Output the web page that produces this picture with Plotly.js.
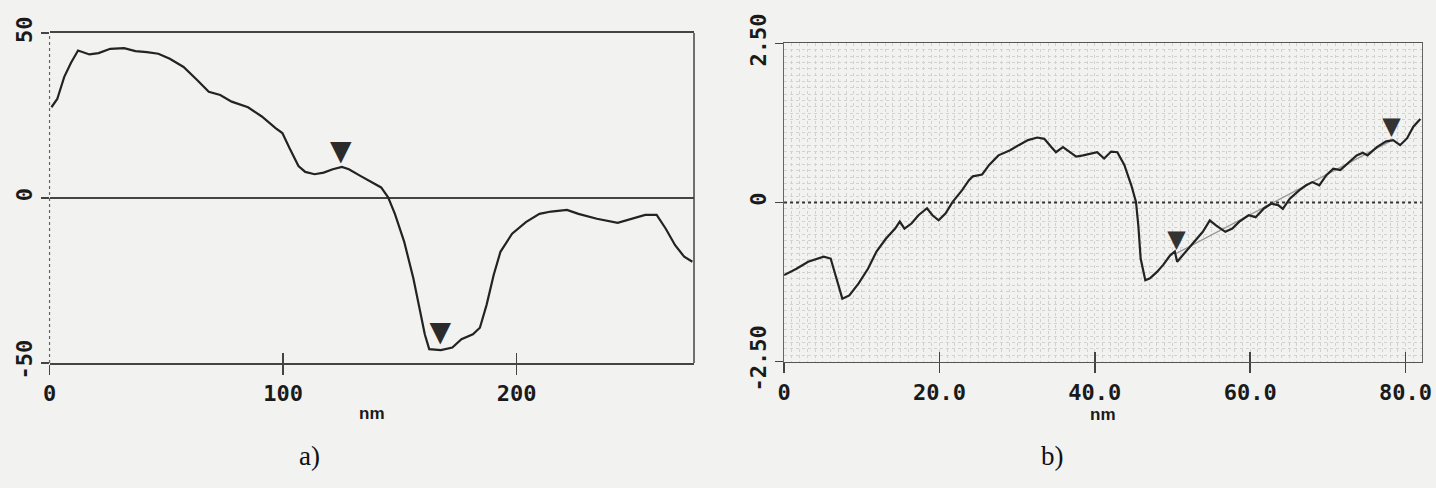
<!DOCTYPE html>
<html>
<head>
<meta charset="utf-8">
<script src="https://cdn.plot.ly/plotly-3.0.1.min.js"></script>
<style>
  html, body { margin: 0; padding: 0; background: #f2f2f0; }
  #chart { width: 1436px; height: 488px; }
</style>
</head>
<body>
<div id="chart"></div>
<script>
// ---- Panel a) data ----
const aX = [0.8, 3.3, 6.3, 9.2, 12.2, 14.2, 17.1, 21, 26, 31.9, 36.8, 41.7, 46.6, 51.5, 57.4, 63.3, 68.2, 73.1, 78, 85, 90.9, 96.8, 99.7, 102.7, 106.6, 109.5, 113.5, 117.4, 121.3, 125.2, 128.2, 133.1, 137.1, 142, 145, 147.9, 151.9, 155.8, 158.7, 160.7, 162.6, 167.6, 172.5, 176.4, 181.3, 184.3, 187.2, 190.2, 193.1, 198.1, 204, 209.8, 214.8, 221.6, 226.5, 234.4, 243.3, 249.2, 255.1, 260, 263.9, 267.9, 271.8, 275.3];
const aY = [27.5, 30, 36.7, 41, 44.7, 44.2, 43.5, 43.9, 45.2, 45.4, 44.5, 44.2, 43.7, 42.2, 39.7, 35.7, 32.2, 31.2, 29.2, 27.5, 24.7, 21.2, 19.7, 15.2, 9.7, 7.9, 7.2, 7.7, 8.7, 9.4, 8.7, 6.7, 5.2, 3.2, 0.2, -4.8, -13.3, -24.3, -34.3, -41.3, -45.8, -46.1, -45.3, -42.8, -41.3, -39.3, -32.3, -23.3, -16.3, -10.8, -7.3, -4.8, -4.1, -3.6, -4.8, -6.3, -7.5, -6.3, -5.1, -5.1, -9.3, -14.3, -17.8, -19.3];
const aMarkX = [124.7, 167.3];
const aMarkY = [9.4, -45.3];
const aTickVals = [0, 100, 200];
const aTickText = ['0', '100', '200'];
const aYTickVals = [-50, 0, 50];
const aYTickText = ['-50', '0', '50'];

// ---- Panel b) data ----
const bX = [0, 1.6, 3.1, 5.1, 6.0, 6.7, 7.5, 8.4, 9.6, 10.8, 11.9, 13.1, 14.3, 14.9, 15.5, 16.4, 17.3, 18.4, 19.1, 19.9, 20.8, 21.7, 22.9, 23.8, 24.3, 25.5, 26.4, 27.6, 29.1, 30.2, 31.4, 32.6, 33.5, 34.4, 35.0, 35.9, 36.7, 37.6, 38.5, 39.4, 40.3, 41.2, 42.1, 42.9, 43.8, 44.7, 45.3, 45.6, 45.9, 46.5, 47.1, 48.0, 48.8, 49.7, 50.3, 50.6, 51.5, 52.7, 53.9, 54.8, 55.6, 56.8, 57.7, 58.6, 59.8, 60.7, 61.8, 62.7, 63.6, 64.2, 65.1, 66.3, 67.2, 68.0, 68.9, 69.8, 70.7, 71.6, 72.8, 73.7, 74.5, 75.1, 76.3, 77.5, 78.4, 79.3, 80.2, 81.0, 81.9];
const bY = [-1.14, -1.04, -0.93, -0.85, -0.88, -1.19, -1.51, -1.46, -1.27, -1.04, -0.77, -0.57, -0.41, -0.30, -0.41, -0.33, -0.20, -0.09, -0.20, -0.28, -0.17, 0.01, 0.19, 0.35, 0.41, 0.44, 0.59, 0.74, 0.82, 0.90, 0.98, 1.02, 1.00, 0.87, 0.79, 0.87, 0.80, 0.72, 0.74, 0.77, 0.79, 0.69, 0.80, 0.79, 0.59, 0.27, 0.01, -0.36, -0.88, -1.22, -1.19, -1.09, -0.98, -0.83, -0.77, -0.93, -0.80, -0.62, -0.46, -0.28, -0.36, -0.46, -0.41, -0.30, -0.20, -0.23, -0.09, -0.02, -0.04, -0.10, 0.06, 0.19, 0.27, 0.32, 0.27, 0.43, 0.53, 0.51, 0.64, 0.74, 0.78, 0.74, 0.87, 0.96, 0.98, 0.90, 1.01, 1.19, 1.31];
const bFitX = [50.5, 78.3];
const bFitY = [-0.80, 0.98];
const bMarkX = [50.5, 78.2];
const bMarkY = [-0.79, 0.98];
const bTickVals = [0, 20, 40, 60, 80];
const bTickText = ['0', '20.0', '40.0', '60.0', '80.0'];
const bYTickVals = [-2.5, 0, 2.5];
const bYTickText = ['-2.50', '0', '2.50'];

const ink = '#232323';
const axisInk = '#444444';
const tickFont = { family: 'DejaVu Sans Mono', size: 22, color: '#1a1a1a', weight: 'bold' };
const unitFont = { family: 'Liberation Sans', size: 17, color: '#1a1a1a', weight: 'bold' };

const traces = [
  { x: aX, y: aY, xaxis: 'x', yaxis: 'y', mode: 'lines', line: { color: ink, width: 2.2 }, hoverinfo: 'skip' },
  { x: aMarkX, y: aMarkY, xaxis: 'x3', yaxis: 'y', mode: 'text', text: aMarkX.map(() => '▼'), textposition: 'top center',
    textfont: { family: 'DejaVu Sans', size: 28, color: '#2b2b2b' }, hoverinfo: 'skip' },
  { x: bFitX, y: bFitY, xaxis: 'x2', yaxis: 'y2', mode: 'lines', line: { color: '#9a9a9a', width: 1.3 }, hoverinfo: 'skip' },
  { x: bX, y: bY, xaxis: 'x2', yaxis: 'y2', mode: 'lines', line: { color: ink, width: 2.2 }, hoverinfo: 'skip' },
  { x: bMarkX, y: bMarkY, xaxis: 'x4', yaxis: 'y2', mode: 'text', text: bMarkX.map(() => '▼'), textposition: 'top center',
    textfont: { family: 'DejaVu Sans', size: 24, color: '#333' }, hoverinfo: 'skip' }
];

const layout = {
  width: 1436, height: 488,
  margin: { l: 0, r: 0, t: 0, b: 0 },
  paper_bgcolor: '#f2f2f0',
  plot_bgcolor: 'rgba(0,0,0,0)',
  showlegend: false,
  xaxis: {
    domain: [0.0345, 0.4833], range: [0, 276], anchor: 'y',
    tickmode: 'array', tickvals: aTickVals, ticktext: aTickText,
    ticks: 'outside', ticklen: 10, tickwidth: 1.5, tickcolor: axisInk,
    showline: true, mirror: true, linecolor: axisInk, linewidth: 1.5,
    showgrid: false, zeroline: false, tickfont: tickFont,
    title: { text: 'nm', font: unitFont, standoff: 2 }
  },
  xaxis3: {
    overlaying: 'x', anchor: 'y', range: [0, 276],
    tickmode: 'array', tickvals: aTickVals, ticks: 'inside', ticklen: 10, tickwidth: 1.5, tickcolor: axisInk,
    showticklabels: false, showgrid: false, zeroline: false, showline: false
  },
  yaxis: {
    domain: [0.2561, 0.9324], range: [-50, 50], anchor: 'x',
    tickmode: 'array', tickvals: aYTickVals, ticktext: aYTickText, tickangle: -90,
    ticks: 'outside', ticklen: 8, tickwidth: 1.5, tickcolor: axisInk,
    showline: false, showgrid: false,
    zeroline: true, zerolinecolor: axisInk, zerolinewidth: 1.5, tickfont: tickFont
  },
  xaxis2: {
    domain: [0.546, 0.990], range: [0, 82.07], anchor: 'y2',
    tickmode: 'array', tickvals: bTickVals, ticktext: bTickText,
    ticks: 'outside', ticklen: 10, tickwidth: 1.5, tickcolor: axisInk,
    showline: true, mirror: true, linecolor: '#555', linewidth: 1.5,
    showgrid: false, zeroline: false, tickfont: tickFont,
    minor: { dtick: 1, showgrid: true, gridcolor: '#d2d2d2', griddash: 'dot', gridwidth: 1 },
    title: { text: 'nm', font: unitFont, standoff: 0 }
  },
  xaxis4: {
    overlaying: 'x2', anchor: 'y2', range: [0, 82.07],
    tickmode: 'array', tickvals: bTickVals, ticks: 'inside', ticklen: 10, tickwidth: 1.5, tickcolor: axisInk,
    showticklabels: false, showgrid: false, zeroline: false, showline: false
  },
  yaxis2: {
    domain: [0.2588, 0.9113], range: [-2.5, 2.5], anchor: 'x2',
    tickmode: 'array', tickvals: bYTickVals, ticktext: bYTickText, tickangle: -90,
    ticks: 'outside', ticklen: 8, tickwidth: 1.5, tickcolor: axisInk,
    showline: true, mirror: true, linecolor: '#666', linewidth: 1.5,
    showgrid: false, zeroline: false, tickfont: tickFont,
    minor: { dtick: 0.1, showgrid: true, gridcolor: '#d2d2d2', griddash: 'dot', gridwidth: 1 }
  },
  shapes: [
    { type: 'line', xref: 'x domain', yref: 'y domain', x0: 1, x1: 1, y0: 0, y1: 1, line: { color: axisInk, width: 1.5 } },
    { type: 'line', xref: 'x domain', yref: 'y domain', x0: 0, x1: 0, y0: 0, y1: 1, line: { color: '#666', width: 1.2, dash: 'dot' } },
    { type: 'line', xref: 'x2 domain', yref: 'y2', x0: 0, x1: 1, y0: 0, y1: 0, line: { color: '#333', width: 1.8, dash: 'dot' } }
  ],
  annotations: [
    { text: 'a)', xref: 'paper', yref: 'paper', x: 0.2068, y: 0.03, showarrow: false,
      font: { family: 'Liberation Serif', size: 27, color: '#111' } },
    { text: 'b)', xref: 'paper', yref: 'paper', x: 0.7423, y: 0.03, showarrow: false,
      font: { family: 'Liberation Serif', size: 27, color: '#111' } }
  ]
};

Plotly.newPlot('chart', traces, layout, { staticPlot: true, displayModeBar: false });
</script>
</body>
</html>
